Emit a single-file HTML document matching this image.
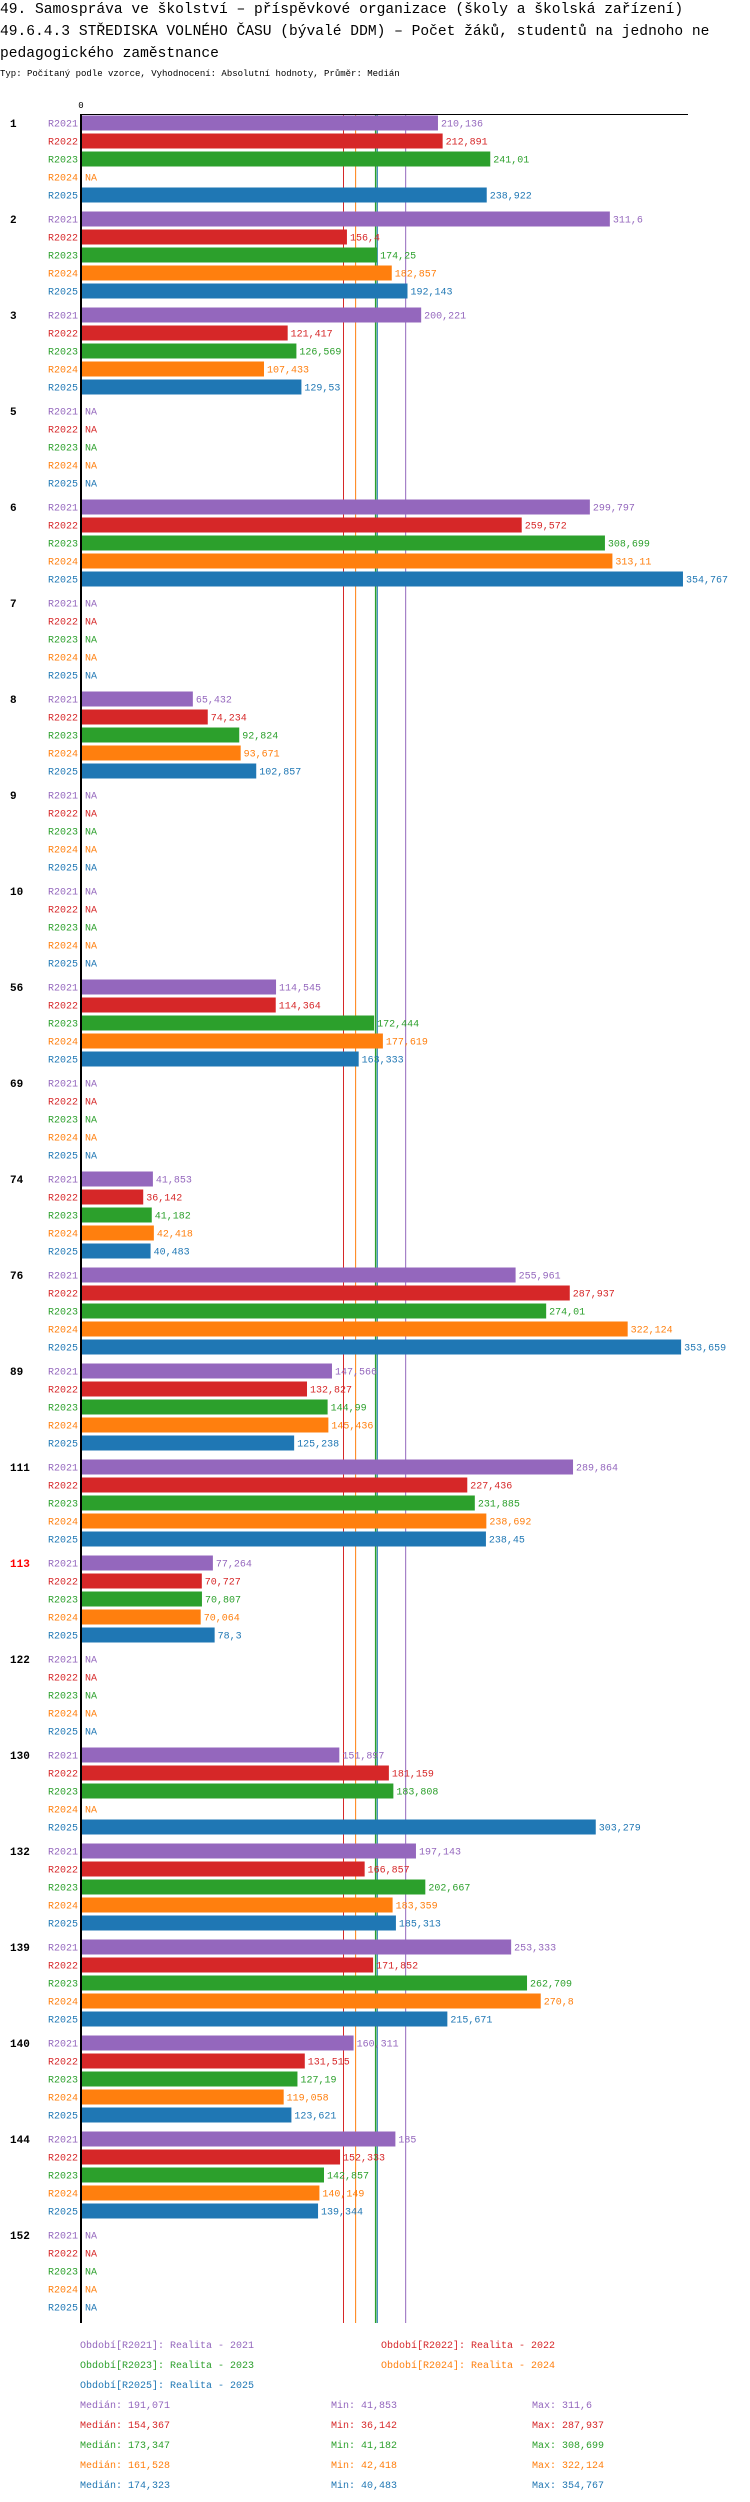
<!DOCTYPE html>
<html><head><meta charset="utf-8">
<style>
html,body{margin:0;padding:0;background:#fff;}
svg{display:block;font-family:"Liberation Mono",monospace;}
</style></head>
<body>
<svg id="chart" width="750" height="2502" viewBox="0 0 750 2502" xmlns="http://www.w3.org/2000/svg">
<text x="0" y="13" font-size="14.6">49. Samospráva ve školství – příspěvkové organizace (školy a školská zařízení)</text>
<text x="0" y="35" font-size="14.6">49.6.4.3 STŘEDISKA VOLNÉHO ČASU (bývalé DDM) – Počet žáků, studentů na jednoho ne</text>
<text x="0" y="57" font-size="14.6">pedagogického zaměstnance</text>
<text x="0" y="76" font-size="9">Typ: Počítaný podle vzorce, Vyhodnocení: Absolutní hodnoty, Průměr: Medián</text>
<g id="plot"></g>
</svg>
<script>
const groups = ["1","2","3","5","6","7","8","9","10","56","69","74","76","89","111","113","122","130","132","139","140","144","152"];
const series = ["R2021","R2022","R2023","R2024","R2025"];
const colors = ["#9467bd","#d62728","#2ca02c","#ff7f0e","#1f77b4"];
const v2021 = [210.136,311.6,200.221,null,299.797,null,65.432,null,null,114.545,null,41.853,255.961,147.566,289.864,77.264,null,151.897,197.143,253.333,160.311,185,null];
const v2022 = [212.891,156.4,121.417,null,259.572,null,74.234,null,null,114.364,null,36.142,287.937,132.827,227.436,70.727,null,181.159,166.857,171.852,131.515,152.333,null];
const v2023 = [241.01,174.25,126.569,null,308.699,null,92.824,null,null,172.444,null,41.182,274.01,144.99,231.885,70.807,null,183.808,202.667,262.709,127.19,142.857,null];
const v2024 = [null,182.857,107.433,null,313.11,null,93.671,null,null,177.619,null,42.418,322.124,145.436,238.692,70.064,null,null,183.359,270.8,119.058,140.149,null];
const v2025 = [238.922,192.143,129.53,null,354.767,null,102.857,null,null,163.333,null,40.483,353.659,125.238,238.45,78.3,null,303.279,185.313,215.671,123.621,139.344,null];
const medians = [191.071,154.367,173.347,161.528,174.323];
const mins = ["41,853","36,142","41,182","42,418","40,483"];
const maxs = ["311,6","287,937","308,699","322,124","354,767"];
const legendLabels = ["Období[R2021]: Realita - 2021","Období[R2022]: Realita - 2022","Období[R2023]: Realita - 2023","Období[R2024]: Realita - 2024","Období[R2025]: Realita - 2025"];
const medianLabels = ["191,071","154,367","173,347","161,528","174,323"];
const values = [v2021,v2022,v2023,v2024,v2025];

const NS="http://www.w3.org/2000/svg";
const plotG=document.getElementById('plot');
const X0=82, K=1.694, Y0=123, GP=96, RP=18;
const xs=v=>X0+v*K;
const yc=(gi,ri)=>Y0+gi*GP+ri*RP;
function el(t,a,txt){const e=document.createElementNS(NS,t);for(const k in a)e.setAttribute(k,a[k]);if(txt!=null)e.textContent=txt;plotG.appendChild(e);return e;}
const fmt=v=>String(v).replace('.',',');
const yEnd=yc(groups.length-1,4)+16;

medians.forEach((m,i)=>{
  const ln=el('line',{x1:xs(m),x2:xs(m),y1:114,y2:yEnd,stroke:colors[i],'stroke-width':(i===2?1.5:1)});
  
  
});

groups.forEach((name,gi)=>{
  const t=el('text',{x:10,y:yc(gi,0)+4,'font-size':11,'font-weight':'bold',fill:name==="113"?"#ff0000":"#000"},name);
  
  
  series.forEach((s,ri)=>{
    const y=yc(gi,ri);
    const l=el('text',{x:78,y:y+3.5,'font-size':10,fill:colors[ri],'text-anchor':'end'},s);
    
    
    const v=values[ri][gi];
    if(v==null){
      const n=el('text',{x:85,y:y+3.5,'font-size':10,fill:colors[ri]},'NA');
      
      
    } else {
      const r=el('rect',{x:X0,y:y-7.5,width:xs(v)-X0,height:15,fill:colors[ri]});
      
      
      const vl=el('text',{x:xs(v)+3,y:y+3.5,'font-size':10,fill:colors[ri]},fmt(v));
      
      
    }
  });
});
const yAxis=el('line',{x1:81,x2:81,y1:114,y2:yEnd,stroke:'#000','stroke-width':2});


const topAxis=el('line',{x1:80,x2:688,y1:114.5,y2:114.5,stroke:'#000','stroke-width':1});


const zeroLabel=el('text',{x:81,y:108,'font-size':9,'text-anchor':'middle'},'0');



const lp=[[80,2348],[381,2348],[80,2368],[381,2368],[80,2388]];
legendLabels.forEach((t,i)=>{
  const e=el('text',{x:lp[i][0],y:lp[i][1],'font-size':10,fill:colors[i]},t);
  
  
});
medianLabels.forEach((m,i)=>{
  const y=2408+i*20;
  const a=el('text',{x:80,y:y,'font-size':10,fill:colors[i]},'Medián: '+m);
  
  
  const b=el('text',{x:331,y:y,'font-size':10,fill:colors[i]},'Min: '+mins[i]);
  
  
  const c=el('text',{x:532,y:y,'font-size':10,fill:colors[i]},'Max: '+maxs[i]);
  
  
});
</script>
</body></html>
